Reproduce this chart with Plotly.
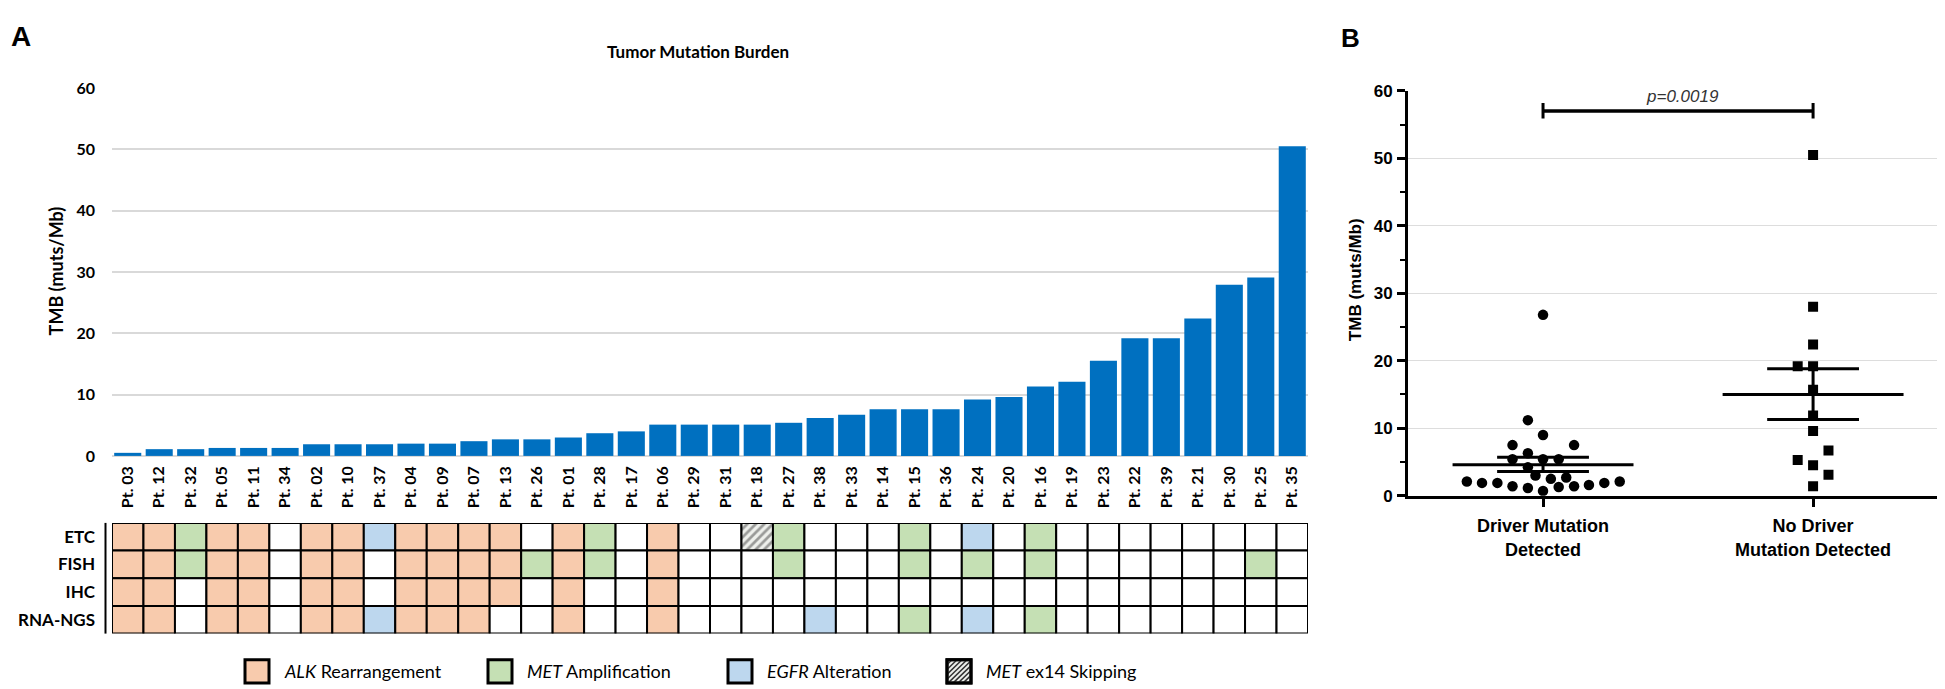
import plotly.graph_objects as go

# ---------------- Panel A data ----------------
patients = ["Pt. 03", "Pt. 12", "Pt. 32", "Pt. 05", "Pt. 11", "Pt. 34", "Pt. 02", "Pt. 10",
            "Pt. 37", "Pt. 04", "Pt. 09", "Pt. 07", "Pt. 13", "Pt. 26", "Pt. 01", "Pt. 28",
            "Pt. 17", "Pt. 06", "Pt. 29", "Pt. 31", "Pt. 18", "Pt. 27", "Pt. 38", "Pt. 33",
            "Pt. 14", "Pt. 15", "Pt. 36", "Pt. 24", "Pt. 20", "Pt. 16", "Pt. 19", "Pt. 23",
            "Pt. 22", "Pt. 39", "Pt. 21", "Pt. 30", "Pt. 25", "Pt. 35"]
tmb = [0.5, 1.1, 1.1, 1.3, 1.3, 1.3, 1.9, 1.9,
       1.9, 2.0, 2.0, 2.4, 2.7, 2.7, 3.0, 3.7,
       4.0, 5.1, 5.1, 5.1, 5.1, 5.4, 6.2, 6.7,
       7.6, 7.6, 7.6, 9.2, 9.6, 11.3, 12.1, 15.5,
       19.2, 19.2, 22.4, 27.9, 29.1, 50.5]

assay_rows = ["ETC", "FISH", "IHC", "RNA-NGS"]
# A = ALK rearrangement, M = MET amplification, E = EGFR alteration, H = MET ex14 skipping, "" = none
etc_row  = ["A", "A", "M", "A", "A", "", "A", "A", "E", "A", "A", "A", "A", "", "A", "M", "", "A", "", "",
            "H", "M", "", "", "", "M", "", "E", "", "M", "", "", "", "", "", "", "", ""]
fish_row = ["A", "A", "M", "A", "A", "", "A", "A", "", "A", "A", "A", "A", "M", "A", "M", "", "A", "", "",
            "", "M", "", "", "", "M", "", "M", "", "M", "", "", "", "", "", "", "M", ""]
ihc_row  = ["A", "A", "", "A", "A", "", "A", "A", "", "A", "A", "A", "A", "", "A", "", "", "A", "", "",
            "", "", "", "", "", "", "", "", "", "", "", "", "", "", "", "", "", ""]
rna_row  = ["A", "A", "", "A", "A", "", "A", "A", "E", "A", "A", "A", "", "", "A", "", "", "A", "", "",
            "", "", "E", "", "", "M", "", "E", "", "M", "", "", "", "", "", "", "", ""]
grid_rows = [etc_row, fish_row, ihc_row, rna_row]

alt_codes = ["A", "M", "E", "H"]
alt_names = ["<i>ALK</i> Rearrangement", "<i>MET</i> Amplification",
             "<i>EGFR</i> Alteration", "<i>MET</i> ex14 Skipping"]

# ---------------- Panel B data ----------------
group_labels = ["Driver Mutation<br>Detected", "No Driver<br>Mutation Detected"]
driver_x = [0.0, -0.056, 0.0, -0.113, 0.115, -0.056, -0.113, 0.0, 0.058, -0.056,
            -0.028, 0.029, 0.086,
            -0.282, -0.226, -0.169, -0.113, -0.056, 0.0, 0.058, 0.115, 0.170, 0.227, 0.284]
driver_tmb = [26.8, 11.2, 9.0, 7.5, 7.5, 6.3, 5.4, 5.4, 5.4, 4.2,
              3.0, 2.5, 2.7,
              2.1, 1.9, 1.9, 1.4, 1.15, 0.7, 1.3, 1.4, 1.6, 1.9, 2.1]
nodriver_x = [1.0, 1.0, 1.0, 0.943, 1.0, 1.0, 1.0, 1.0, 1.057, 0.943, 1.0, 1.057, 1.0]
nodriver_tmb = [50.5, 28.0, 22.4, 19.2, 19.2, 15.7, 11.9, 9.6, 6.7, 5.3, 4.5, 3.1, 1.4]
group_mean = [4.6, 15.0]
group_sem_low = [3.6, 11.3]
group_sem_high = [5.7, 18.8]
p_text = "p=0.0019"
sig_y = 57.0

# ---------------- styles ----------------
FA = "Lato, Open Sans, sans-serif"
FB = "Liberation Sans, Arial, sans-serif"
col_map = {"A": "#F8CBAD", "M": "#C5E0B4", "E": "#BDD7EE", "H": "#EEF0EC", "": "#FFFFFF"}
pat_map = {"H": "/"}
W, H = 1945, 689


def px(xp):
    return xp / W


def py(yp):
    return 1 - yp / H


fig = go.Figure()

# TMB bars
fig.add_trace(go.Bar(x=patients, y=tmb, marker=dict(color="#0070C0", line=dict(width=0)),
                     width=0.86, xaxis="x", yaxis="y", showlegend=False, hoverinfo="x+y"))

# Assay grid
for i, row in enumerate(grid_rows):
    fig.add_trace(go.Bar(
        x=patients, y=[1] * len(patients), base=[i] * len(patients), width=1,
        marker=dict(color=[col_map[c] for c in row],
                    line=dict(color="black", width=2),
                    pattern=dict(shape=[pat_map.get(c, "") for c in row],
                                 fgcolor="#333333", bgcolor="#EEF0EC", size=6, solidity=0.45)),
        xaxis="x3", yaxis="y3", showlegend=False, hoverinfo="skip"))

# Panel B scatter
fig.add_trace(go.Scatter(x=driver_x, y=driver_tmb, mode="markers", xaxis="x2", yaxis="y2",
                         marker=dict(symbol="circle", size=10.5, color="black"), showlegend=False))
fig.add_trace(go.Scatter(x=nodriver_x, y=nodriver_tmb, mode="markers", xaxis="x2", yaxis="y2",
                         marker=dict(symbol="square", size=10, color="black"), showlegend=False))
# mean and SEM lines
for g in range(2):
    fig.add_trace(go.Scatter(x=[g - 0.335, g + 0.335], y=[group_mean[g]] * 2, mode="lines",
                             line=dict(color="black", width=3), xaxis="x2", yaxis="y2",
                             showlegend=False, hoverinfo="skip"))
    for v in (group_sem_low[g], group_sem_high[g]):
        fig.add_trace(go.Scatter(x=[g - 0.17, g + 0.17], y=[v, v], mode="lines",
                                 line=dict(color="black", width=3), xaxis="x2", yaxis="y2",
                                 showlegend=False, hoverinfo="skip"))
    fig.add_trace(go.Scatter(x=[g, g], y=[group_sem_low[g], group_sem_high[g]], mode="lines",
                             line=dict(color="black", width=3), xaxis="x2", yaxis="y2",
                             showlegend=False, hoverinfo="skip"))
# significance bracket
fig.add_trace(go.Scatter(x=[0, 1], y=[sig_y, sig_y], mode="lines", line=dict(color="black", width=3.5),
                         xaxis="x2", yaxis="y2", showlegend=False, hoverinfo="skip"))
for g in range(2):
    fig.add_trace(go.Scatter(x=[g, g], y=[sig_y - 1.1, sig_y + 1.2], mode="lines",
                             line=dict(color="black", width=3), xaxis="x2", yaxis="y2",
                             showlegend=False, hoverinfo="skip"))

xa_dom = [px(104), px(1300)]
fig.update_layout(
    width=W, height=H, margin=dict(l=0, r=0, t=0, b=0),
    paper_bgcolor="white", plot_bgcolor="white", barmode="overlay",
    font=dict(family=FA, color="black"), showlegend=False,
    xaxis=dict(domain=xa_dom, range=[-0.5, len(patients) - 0.5], tickangle=-90,
               tickfont=dict(family=FA, size=16, color="black", weight="bold"),
               showline=False, showgrid=False, ticks="", ticklabelstandoff=6),
    yaxis=dict(domain=[py(451), py(72)], range=[0, 60], dtick=10, showgrid=True,
               gridcolor="#D9D9D9", gridwidth=2, zeroline=True, zerolinecolor="#D9D9D9",
               zerolinewidth=2, showline=False, ticks="", ticklabelstandoff=16,
               tickfont=dict(family=FA, size=16, color="black", weight="bold")),
    xaxis3=dict(domain=xa_dom, matches="x", showticklabels=False, showgrid=False,
                showline=False, ticks="", anchor="y3"),
    yaxis3=dict(domain=[py(634), py(520)], range=[4, 0], tickvals=[0.5, 1.5, 2.5, 3.5],
                ticktext=assay_rows, showgrid=False, zeroline=False, showline=False, ticks="",
                ticklabelstandoff=16, anchor="x3",
                tickfont=dict(family=FA, size=17, color="black", weight="bold")),
    xaxis2=dict(domain=[px(1400), px(1942)], range=[-0.5, 1.507], tickvals=[0, 1],
                ticktext=group_labels, showline=True, linecolor="black", linewidth=3,
                ticks="outside", ticklen=8, tickwidth=3, tickcolor="black", showgrid=False,
                zeroline=False, anchor="y2", ticklabelstandoff=4,
                tickfont=dict(family=FB, size=18, color="black", weight="bold")),
    yaxis2=dict(domain=[py(492), py(75)], range=[0, 60], dtick=10, showline=True,
                linecolor="black", linewidth=3, ticks="outside", ticklen=8, tickwidth=3,
                tickcolor="black", showgrid=True, gridcolor="#DDDDDD", gridwidth=1,
                zeroline=False, anchor="x2", ticklabelstandoff=1,
                minor=dict(dtick=5, ticks="outside", ticklen=5, tickwidth=2, tickcolor="black",
                           showgrid=False),
                tickfont=dict(family=FB, size=17, color="black", weight="bold")),
)

annotations = [
    dict(text="<b>A</b>", x=px(1), y=py(1), xref="paper", yref="paper", xanchor="left", yanchor="top",
         showarrow=False, font=dict(family="Liberation Sans, Arial", size=28, color="black")),
    dict(text="<b>B</b>", x=px(1331), y=py(3), xref="paper", yref="paper", xanchor="left", yanchor="top",
         showarrow=False, font=dict(family="Liberation Sans, Arial", size=26, color="black")),
    dict(text="<b>Tumor Mutation Burden</b>", x=px(690), y=py(35), xref="paper", yref="paper",
         xanchor="center", yanchor="middle",
         showarrow=False, font=dict(family=FA, size=17, color="black")),
    dict(text="<b>TMB (muts/Mb)</b>", x=px(48), y=py(261), xref="paper", yref="paper", textangle=-90,
         xanchor="center", yanchor="middle",
         showarrow=False, font=dict(family=FA, size=18, color="black")),
    dict(text="<b>TMB (muts/Mb)</b>", x=px(1347), y=py(270), xref="paper", yref="paper", textangle=-90,
         xanchor="center", yanchor="middle",
         showarrow=False, font=dict(family=FB, size=17, color="black")),
    dict(text="<i>" + p_text + "</i>", x=0.515, y=59.2, xref="x2", yref="y2", showarrow=False,
         xanchor="center", yanchor="middle",
         bgcolor="white", font=dict(family=FB, size=17, color="#333333")),
]

# manual legend (box positions in pixels)
legend_box_x = [237, 480, 720, 939]
box_w, box_top, box_bot = 24, 661, 685
shapes = [dict(type="line", xref="paper", yref="paper", x0=px(97.5), x1=px(97.5), y0=py(634), y1=py(520),
               line=dict(color="black", width=2))]
for code, name, bx in zip(alt_codes, alt_names, legend_box_x):
    shapes.append(dict(type="rect", xref="paper", yref="paper", x0=px(bx), x1=px(bx + box_w),
                       y0=py(box_bot), y1=py(box_top), fillcolor=col_map[code],
                       line=dict(color="black", width=3)))
    if code == "H":
        for s in range(5, 48, 5):
            if s <= box_w:
                a = (0, s, s, 0)
            else:
                a = (s - box_w, box_w, box_w, s - box_w)
            shapes.append(dict(type="line", xref="paper", yref="paper",
                               x0=px(bx + a[0]), y0=py(box_top + a[1]),
                               x1=px(bx + a[2]), y1=py(box_top + a[3]),
                               line=dict(color="#333333", width=1.5)))
        shapes.append(dict(type="rect", xref="paper", yref="paper", x0=px(bx), x1=px(bx + box_w),
                           y0=py(box_bot), y1=py(box_top), line=dict(color="black", width=3)))
    annotations.append(dict(text=name, x=px(bx + box_w + 13), y=py((box_top + box_bot) / 2),
                            xref="paper", yref="paper", xanchor="left", yanchor="middle",
                            showarrow=False, font=dict(family=FA, size=18, color="black")))

fig.update_layout(annotations=annotations, shapes=shapes)

fig.write_html("out.html")
